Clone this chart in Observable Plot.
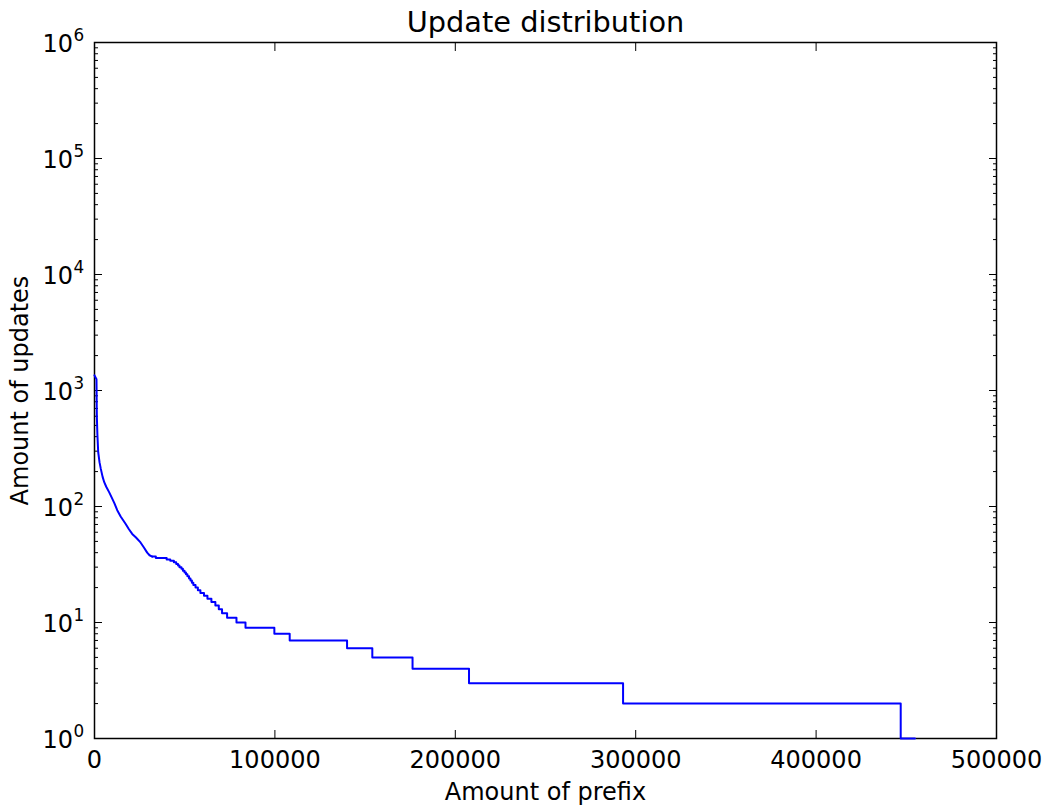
<!DOCTYPE html>
<html><head><meta charset="utf-8">
<script src="https://cdn.jsdelivr.net/npm/d3@7"></script>
<script src="https://cdn.jsdelivr.net/npm/@observablehq/plot@0.6"></script>
<style>
  html, body { margin: 0; padding: 0; background: #fff; }
  svg { font-family: "DejaVu Sans", sans-serif; }
</style>
</head><body><div id="chart"></div>
<script>
const chartTitle = "Update distribution";
const xLabel = "Amount of prefix";
const yLabel = "Amount of updates";
const xTicks = [0, 100000, 200000, 300000, 400000, 500000];
const yTicks = [1, 10, 100, 1000, 10000, 100000, 1000000];
const yTickBase = "10";
const yTickExponents = ["0", "1", "2", "3", "4", "5", "6"];

// smooth high-count head of the sorted distribution
const headRank = [0, 1100, 1300, 1600, 2050, 2800, 3500, 4500, 5400, 6500, 8100, 9500, 11000, 12600, 14500, 17200, 19000, 20900, 23000, 25500, 27300, 29200, 30500, 32000];
const headUpdates = [1350, 1250, 600, 420, 294, 240, 211, 180, 162, 148, 133, 120, 107, 93, 82, 71, 64, 58, 54, 49, 44.5, 40, 38, 37];

// integer-step tail
const tailRank = [32000, 34000, 40000, 42000, 44000, 45300, 46300, 47100, 48200, 49000, 49900, 50700, 51500, 52400, 53200, 54000, 54800, 56000, 57300, 58700, 60700, 62600, 64800, 67000, 68900, 70700, 73500, 78700, 83700, 99700, 108200, 140000, 154000, 176300, 207600, 293000, 446900, 454800];
const tailUpdates = [37, 36, 35, 34, 33, 32, 31, 30, 29, 28, 27, 26, 25, 24, 23, 22, 21, 20, 19, 18, 17, 16, 15, 14, 13, 12, 11, 10, 9, 8, 7, 6, 5, 4, 3, 2, 1, 1];

const head = headRank.map((r, i) => ({rank: r, updates: headUpdates[i]}));
const tail = tailRank.map((r, i) => ({rank: r, updates: tailUpdates[i]}));
const yMinor = yTicks.slice(0, -1).flatMap(d => [2, 3, 4, 5, 6, 7, 8, 9].map(m => m * d));

const plot = Plot.plot({
  width: 1044,
  height: 805,
  marginLeft: 94,
  marginRight: 48,
  marginTop: 42,
  marginBottom: 67,
  style: {fontFamily: "DejaVu Sans", background: "white", color: "black", overflow: "visible"},
  x: {domain: [0, 500000]},
  y: {type: "log", domain: [1, 1e6]},
  marks: [
    Plot.axisX({ticks: xTicks, anchor: "bottom", tickSize: 0, tickPadding: 12, fontSize: 24, tickFormat: d3.format("d"), label: null}),
    Plot.axisX({ticks: xTicks, anchor: "bottom", tickSize: -8, fill: "none", label: null}),
    Plot.axisX({ticks: xTicks, anchor: "top", tickSize: -8, fill: "none", label: null}),
    // y tick labels: base "10" plus raised exponent
    Plot.text(yTicks, {y: d => d, text: () => yTickBase, frameAnchor: "left", textAnchor: "end", lineAnchor: "bottom", dx: -21.5, dy: 9.7, fontSize: 24, fill: "black"}),
    Plot.text(yTicks, {y: d => d, text: (d, i) => yTickExponents[yTicks.indexOf(d)], frameAnchor: "left", textAnchor: "start", lineAnchor: "bottom", dx: -21, dy: -2, fontSize: 16.8, fill: "black"}),
    Plot.axisY({ticks: yTicks, anchor: "left", tickSize: -8, fill: "none", label: null}),
    Plot.axisY({ticks: yMinor, anchor: "left", tickSize: -4, fill: "none", label: null}),
    Plot.axisY({ticks: yTicks, anchor: "right", tickSize: -8, fill: "none", label: null}),
    Plot.axisY({ticks: yMinor, anchor: "right", tickSize: -4, fill: "none", label: null}),
    Plot.frame({stroke: "black", strokeWidth: 1.5}),
    Plot.line(head, {x: "rank", y: "updates", stroke: "#0000ff", strokeWidth: 2}),
    Plot.line(tail, {x: "rank", y: "updates", curve: "step-after", stroke: "#0000ff", strokeWidth: 2}),
    Plot.text([chartTitle], {text: d => d, frameAnchor: "top", textAnchor: "middle", lineAnchor: "middle", dy: -19.5, fontSize: 28.8, fill: "black"}),
    Plot.text([xLabel], {text: d => d, frameAnchor: "bottom", textAnchor: "middle", lineAnchor: "middle", dy: 53.5, fontSize: 24, fill: "black"}),
    Plot.text([yLabel], {text: d => d, frameAnchor: "left", textAnchor: "middle", lineAnchor: "middle", rotate: -90, dx: -73.7, fontSize: 24, fill: "black"})
  ]
});
document.getElementById("chart").appendChild(plot);
</script>
</body></html>
